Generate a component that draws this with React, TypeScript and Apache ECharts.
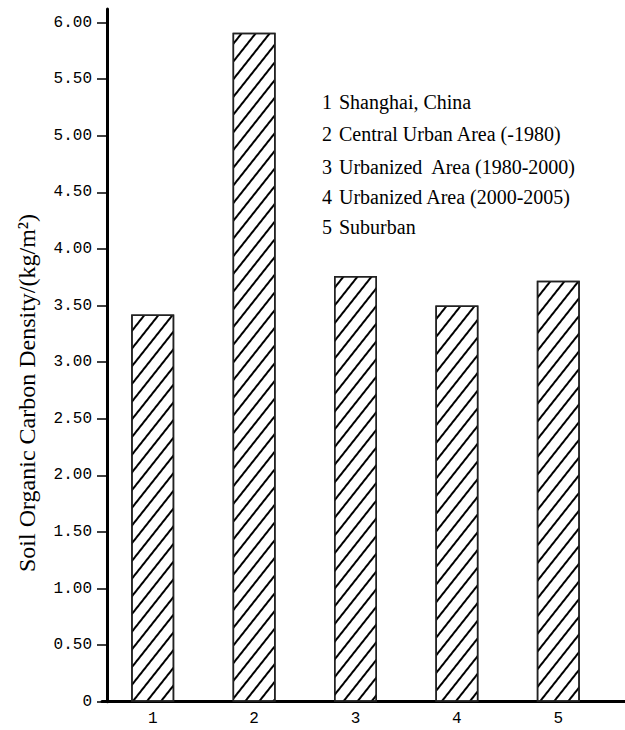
import React, { useEffect, useRef } from "react";
import * as echarts from "echarts";

const categories = ["1", "2", "3", "4", "5"];
const values = [3.42, 5.91, 3.76, 3.5, 3.72];
const yTicks = [0, 0.5, 1, 1.5, 2, 2.5, 3, 3.5, 4, 4.5, 5, 5.5, 6];
const legendNums = ["1", "2", "3", "4", "5"];
const legendNames = [
  "Shanghai, China",
  "Central Urban Area (-1980)",
  "Urbanized  Area (1980-2000)",
  "Urbanized Area (2000-2005)",
  "Suburban",
];
const yAxisTitle = "Soil Organic Carbon Density/(kg/m\u00B2)";

export default function App() {
  const ref = useRef<HTMLDivElement>(null);
  useEffect(() => {
    if (!ref.current) return;
    const chart = echarts.init(ref.current, null, { renderer: "svg" });
    const legendY = [102, 134, 167, 197, 227];
    const graphics: any[] = [];
    legendNames.forEach((name, i) => {
      graphics.push({
        type: "text",
        x: 322,
        y: legendY[i],
        style: {
          text: legendNums[i],
          font: '20px "Liberation Serif"',
          fill: "#000",
          verticalAlign: "middle",
        },
      });
      graphics.push({
        type: "text",
        x: 339,
        y: legendY[i],
        style: {
          text: name,
          font: '20px "Liberation Serif"',
          fill: "#000",
          verticalAlign: "middle",
        },
      });
    });
    graphics.push({
      type: "text",
      x: 27,
      y: 393,
      rotation: Math.PI / 2,
      style: {
        text: yAxisTitle,
        font: '24px "Liberation Serif"',
        fill: "#000",
        align: "center",
        verticalAlign: "middle",
      },
    });
    graphics.push({
      type: "line",
      shape: { x1: 607, y1: 701.5, x2: 625, y2: 701.5 },
      style: { stroke: "#000", lineWidth: 3 },
    });

    chart.setOption({
      animation: false,
      backgroundColor: "#fff",
      grid: { left: 102, right: 16, top: 9, bottom: 28.3 },
      xAxis: {
        type: "category",
        data: categories,
        axisLine: { lineStyle: { color: "#000", width: 3 } },
        axisTick: { inside: true, length: 10, lineStyle: { color: "#000", width: 2 } },
        axisLabel: {
          color: "#000",
          fontFamily: "Liberation Mono",
          fontSize: 16,
          margin: 9,
        },
      },
      yAxis: {
        type: "value",
        min: 0,
        max: 6.12,
        offset: -5,
        splitLine: { show: false },
        axisLine: { show: true, lineStyle: { color: "#000", width: 3 } },
        axisTick: {
          show: true,
          length: 10,
          customValues: yTicks,
          lineStyle: { color: "#000", width: 1.5 },
        },
        axisLabel: {
          customValues: yTicks,
          color: "#000",
          fontFamily: "Liberation Mono",
          fontSize: 16,
          margin: 15,
          formatter: (v: number) => (v === 0 ? "0" : v.toFixed(2)),
        },
      },
      series: [
        {
          type: "bar",
          data: values,
          barWidth: 43,
          itemStyle: {
            color: "#fff",
            borderColor: "#222",
            borderWidth: 1.5,
            decal: {
              symbol: "rect",
              symbolSize: 1,
              color: "#000",
              backgroundColor: "#fff",
              dashArrayX: [1, 0],
              dashArrayY: [1.3, 9],
              rotation: -0.9,
            },
          },
        },
      ],
      graphic: graphics,
    });
    return () => chart.dispose();
  }, []);
  return (
    <div
      ref={ref}
      style={{ position: "absolute", left: 0, top: 0, width: 625, height: 730 }}
    />
  );
}
